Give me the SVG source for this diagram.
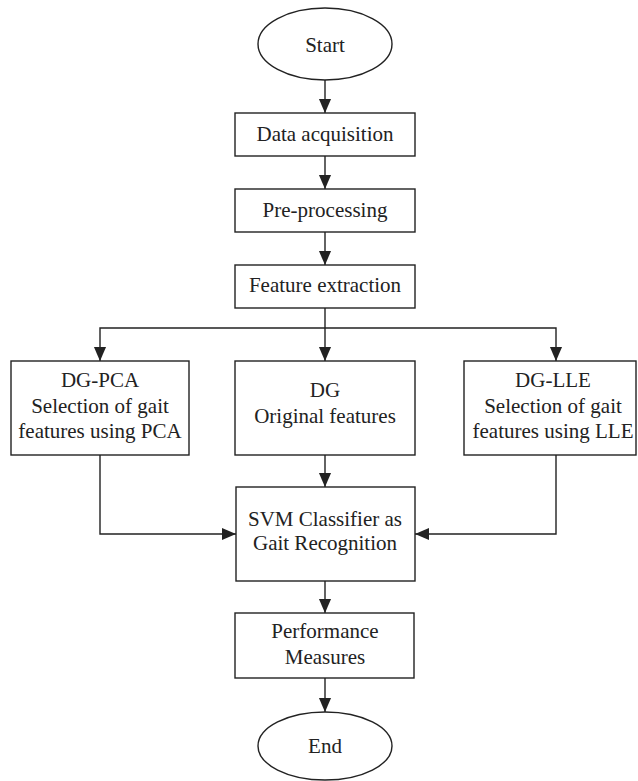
<svg xmlns="http://www.w3.org/2000/svg" width="638" height="781" viewBox="0 0 638 781">
<style>
.b{fill:#fff;stroke:#222;stroke-width:1.4}
.t{font-family:"Liberation Serif","Times New Roman",serif;font-size:21px;fill:#222;text-anchor:middle}
.c{fill:none;stroke:#222;stroke-width:1.4}
</style>
<defs>
<marker id="ah" markerUnits="userSpaceOnUse" markerWidth="14" markerHeight="16" refX="15" refY="6.5" orient="auto" viewBox="0 0 15 13">
<path d="M0,0 L15,6.5 L0,13 Z" fill="#222"/>
</marker>
</defs>
<rect width="638" height="781" fill="#fff"/>
<g id="connectors">
<line class="c" x1="325" y1="80" x2="325" y2="113" marker-end="url(#ah)"/>
<line class="c" x1="325" y1="156" x2="325" y2="189" marker-end="url(#ah)"/>
<line class="c" x1="325" y1="232" x2="325" y2="265" marker-end="url(#ah)"/>
<line class="c" x1="325" y1="308" x2="325" y2="361" marker-end="url(#ah)"/>
<polyline class="c" points="325,328 100,328 100,361" marker-end="url(#ah)"/>
<polyline class="c" points="325,328 556,328 556,361" marker-end="url(#ah)"/>
<line class="c" x1="325" y1="455" x2="325" y2="487" marker-end="url(#ah)"/>
<polyline class="c" points="100,455 100,534 236,534" marker-end="url(#ah)"/>
<polyline class="c" points="556,455 556,534 415,534" marker-end="url(#ah)"/>
<line class="c" x1="325" y1="581" x2="325" y2="613" marker-end="url(#ah)"/>
<line class="c" x1="325" y1="678" x2="325" y2="712" marker-end="url(#ah)"/>
</g>
<g id="start">
<ellipse class="b" cx="325" cy="44" rx="67" ry="36"/>
<text class="t" x="325" y="52">Start</text>
</g>
<g id="data">
<rect class="b" x="235" y="113" width="180" height="43"/>
<text class="t" x="325" y="141">Data acquisition</text>
</g>
<g id="pre">
<rect class="b" x="235" y="189" width="180" height="43"/>
<text class="t" x="325" y="217">Pre-processing</text>
</g>
<g id="feat">
<rect class="b" x="235" y="265" width="180" height="43"/>
<text class="t" x="325" y="292">Feature extraction</text>
</g>
<g id="dgpca">
<rect class="b" x="11" y="361" width="178" height="94"/>
<text class="t" x="100" y="387">DG-PCA</text>
<text class="t" x="100" y="413">Selection of gait</text>
<text class="t" x="100" y="438">features using PCA</text>
</g>
<g id="dg">
<rect class="b" x="235" y="361" width="180" height="94"/>
<text class="t" x="325" y="397">DG</text>
<text class="t" x="325" y="423">Original features</text>
</g>
<g id="dglle">
<rect class="b" x="464" y="361" width="172" height="94"/>
<text class="t" x="553" y="387">DG-LLE</text>
<text class="t" x="553" y="413">Selection of gait</text>
<text class="t" x="553" y="438">features using LLE</text>
</g>
<g id="svm">
<rect class="b" x="236" y="487" width="179" height="94"/>
<text class="t" x="325" y="526">SVM Classifier as</text>
<text class="t" x="325" y="550">Gait Recognition</text>
</g>
<g id="perf">
<rect class="b" x="235" y="613" width="179" height="65"/>
<text class="t" x="325" y="638">Performance</text>
<text class="t" x="325" y="664">Measures</text>
</g>
<g id="end">
<ellipse class="b" cx="325" cy="746" rx="67" ry="34"/>
<text class="t" x="325" y="753">End</text>
</g>
</svg>
